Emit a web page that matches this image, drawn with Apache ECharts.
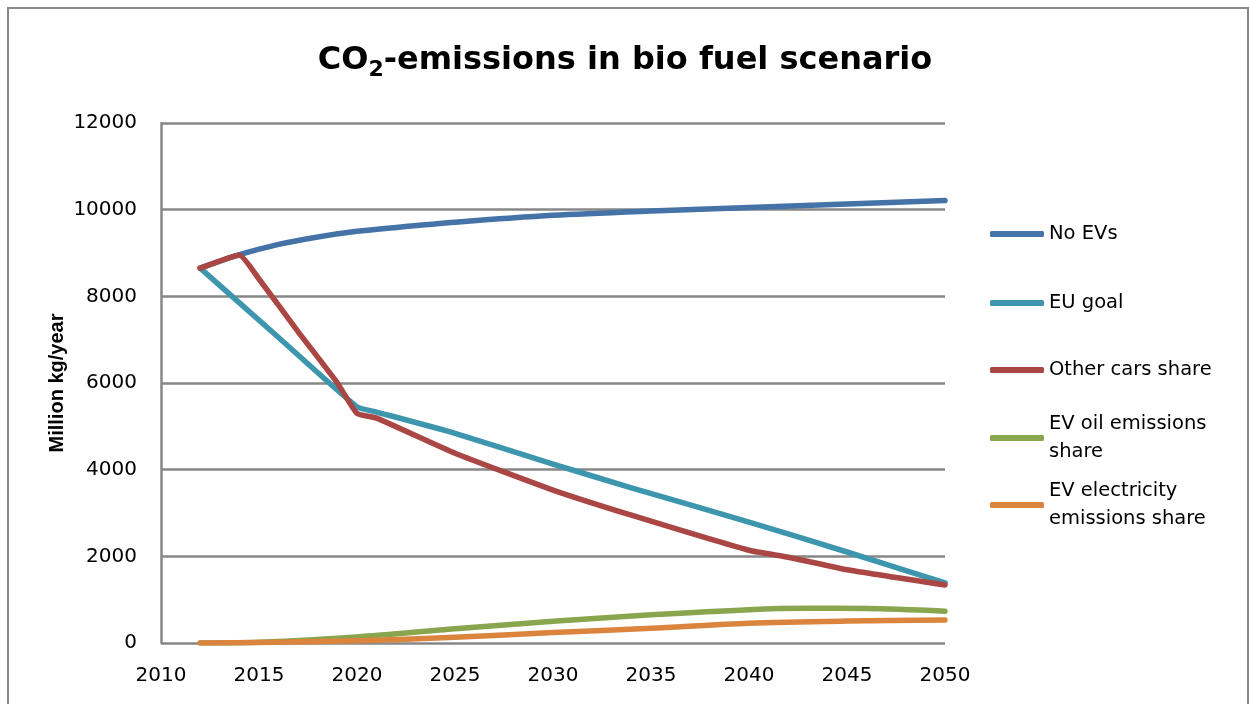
<!DOCTYPE html>
<html>
<head>
<meta charset="utf-8">
<script src="https://cdn.jsdelivr.net/npm/echarts@6/dist/echarts.min.js"></script>
<style>
html,body{margin:0;padding:0;background:#fff;}
#chart{width:1250px;height:704px;}
</style>
</head>
<body>
<div id="chart"></div>
<script>
// ---- data ----
const xTicks = [2010, 2015, 2020, 2025, 2030, 2035, 2040, 2045, 2050];
const yTicks = [0, 2000, 4000, 6000, 8000, 10000, 12000];

const seriesNames = ['No EVs', 'EU goal', 'Other cars share', 'EV oil emissions share', 'EV electricity emissions share'];

const noEvYears = [2012, 2014, 2016, 2018, 2020, 2022, 2025, 2030, 2035, 2040, 2045, 2050];
const noEvValues = [8650, 8960, 9200, 9370, 9500, 9590, 9710, 9870, 9970, 10050, 10130, 10210];

const euYears = [2012, 2016, 2020, 2021, 2025, 2030, 2034, 2040, 2045, 2050];
const euValues = [8650, 7050, 5450, 5330, 4840, 4130, 3580, 2790, 2100, 1385];

const otherYears = [2012, 2014, 2015, 2017, 2019, 2020, 2021, 2025, 2030, 2034, 2040, 2042, 2045, 2050];
const otherValues = [8650, 8950, 8400, 7180, 6000, 5300, 5190, 4380, 3530, 2950, 2140, 1980, 1690, 1340];

const oilYears = [2012, 2015, 2020, 2025, 2030, 2035, 2040, 2043, 2046, 2050];
const oilValues = [0, 20, 140, 330, 500, 650, 770, 800, 795, 735];

const elecYears = [2012, 2015, 2020, 2025, 2030, 2035, 2040, 2045, 2050];
const elecValues = [0, 10, 50, 130, 240, 340, 455, 505, 530];

const colors = ['#4572A7', '#3D96AE', '#AA4643', '#89A54E', '#DB843D'];
const legendLabels = ['No EVs', 'EU goal', 'Other cars share', 'EV oil emissions\nshare', 'EV electricity\nemissions share'];

function pairs(xs, ys) { return xs.map((x, i) => [x, ys[i]]); }
const allData = [
  pairs(noEvYears, noEvValues),
  pairs(euYears, euValues),
  pairs(otherYears, otherValues),
  pairs(oilYears, oilValues),
  pairs(elecYears, elecValues)
];
const smoothness = [0.3, 0.15, 0.15, 0.3, 0.3];

const chart = echarts.init(document.getElementById('chart'), null, {renderer: 'canvas'});

const legendIconY = [234, 303, 370, 438, 505];
const legends = seriesNames.map((name, i) => {
  const twoLine = legendLabels[i].indexOf('\n') >= 0;
  return {
    data: [name],
    left: 990,
    top: twoLine ? legendIconY[i] - 42 : legendIconY[i] - 14,
    orient: 'vertical',
    padding: 0,
    icon: 'roundRect',
    itemWidth: 54,
    itemHeight: 6,
    selectedMode: false,
    formatter: () => legendLabels[i],
    textStyle: {
      fontFamily: 'DejaVu Sans',
      fontSize: 19.5,
      color: '#000',
      lineHeight: 28,
      padding: twoLine ? [28, 0, 0, 0] : 0
    }
  };
});

const option = {
  backgroundColor: '#fff',
  animation: false,
  color: colors,
  title: {
    text: '{a|CO}{s|2}{a|-emissions in bio fuel scenario}',
    left: 'center',
    top: 36,
    textStyle: {
      rich: {
        a: {fontFamily: 'DejaVu Sans', fontWeight: 'bold', fontSize: 32, lineHeight: 40, color: '#000'},
        s: {fontFamily: 'DejaVu Sans', fontWeight: 'bold', fontSize: 22, lineHeight: 28, verticalAlign: 'bottom', color: '#000'}
      }
    }
  },
  legend: legends,
  grid: {left: 161, right: 305, top: 123, bottom: 61, containLabel: false},
  xAxis: {
    type: 'value',
    min: xTicks[0],
    max: xTicks[xTicks.length - 1],
    interval: 5,
    axisLine: {show: false},
    axisTick: {show: false},
    splitLine: {show: false},
    axisLabel: {
      fontFamily: 'DejaVu Sans', fontSize: 20, color: '#000', margin: 23,
      formatter: v => String(v)
    }
  },
  yAxis: {
    type: 'value',
    min: yTicks[0],
    max: yTicks[yTicks.length - 1],
    interval: 2000,
    name: 'Million kg/year',
    nameLocation: 'middle',
    nameRotate: 90,
    nameGap: 94,
    nameMoveOverlap: false,
    nameTextStyle: {fontFamily: 'Liberation Sans', fontWeight: 'bold', fontSize: 20, color: '#000'},
    axisLine: {show: true, lineStyle: {color: '#878787', width: 2.5}},
    axisTick: {show: false},
    splitLine: {show: true, lineStyle: {color: '#878787', width: 2.5}},
    axisLabel: {fontFamily: 'DejaVu Sans', fontSize: 20, color: '#000', margin: 24, formatter: v => String(v)}
  },
  graphic: [{
    type: 'rect',
    shape: {x: 8, y: 8, width: 1240, height: 710},
    style: {fill: 'none', stroke: '#8a8a8a', lineWidth: 2},
    silent: true,
    z: -1
  }],
  series: seriesNames.map((name, i) => ({
    name: name,
    type: 'line',
    data: allData[i],
    showSymbol: false,
    symbol: 'none',
    smooth: smoothness[i],
    lineStyle: {width: 5.5, color: colors[i], cap: 'round', join: 'round'},
    itemStyle: {color: colors[i]},
    z: 2 + i
  }))
};

chart.setOption(option);
</script>
</body>
</html>
